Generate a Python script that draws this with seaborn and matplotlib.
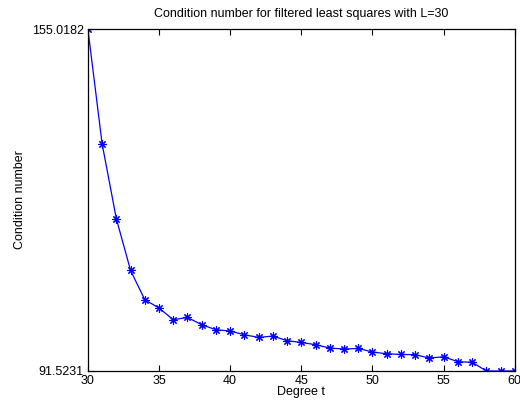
import matplotlib
matplotlib.use("Agg")
import matplotlib.pyplot as plt
import seaborn as sns

degree = list(range(30, 61))
cond = [155.0182, 133.72, 119.79, 110.19, 104.75, 103.21, 101.04, 101.46,
        100.11, 99.18, 98.94, 98.25, 97.75, 98.01, 97.14, 96.82, 96.40,
        95.78, 95.60, 95.71, 95.04, 94.72, 94.59, 94.55, 93.92, 94.17,
        93.24, 93.15, 91.5231, 91.5231, 91.5231]
y_ticks = [91.5231, 155.0182]
x_ticks = [30, 35, 40, 45, 50, 55, 60]

sns.set_style("ticks")
plt.rcParams['font.family'] = ['Liberation Sans', 'DejaVu Sans']
plt.rcParams['text.color'] = 'black'
plt.rcParams['axes.labelcolor'] = 'black'
plt.rcParams['xtick.color'] = 'black'
plt.rcParams['ytick.color'] = 'black'

fig = plt.figure(figsize=(5.2, 4.07), dpi=100)
ax = fig.add_axes([0.169, 0.0885, 0.821, 0.8402])

sns.lineplot(x=degree, y=cond, ax=ax, color='#0000ff', linewidth=0.9,
             marker=(8, 2, 0), markersize=6, markeredgecolor='#0000ff',
             markeredgewidth=0.8)

ax.set_xlim(30, 60)
ax.set_ylim(y_ticks[0], y_ticks[1])
ax.set_xticks(x_ticks)
ax.set_yticks(y_ticks)
ax.set_yticklabels([f"{v:.4f}" for v in y_ticks])
ax.tick_params(direction='in', length=4, width=0.8, labelsize=9,
               top=True, right=True, pad=3)
for s in ax.spines.values():
    s.set_visible(True)
    s.set_linewidth(0.9)
    s.set_color('black')

ax.set_xlabel("Degree t", fontsize=9, labelpad=-1)
ax.set_ylabel("Condition number", fontsize=9, labelpad=4)
ax.set_title("Condition number for filtered least squares with L=30", fontsize=9, pad=9)

fig.savefig("out.png", dpi=100)
